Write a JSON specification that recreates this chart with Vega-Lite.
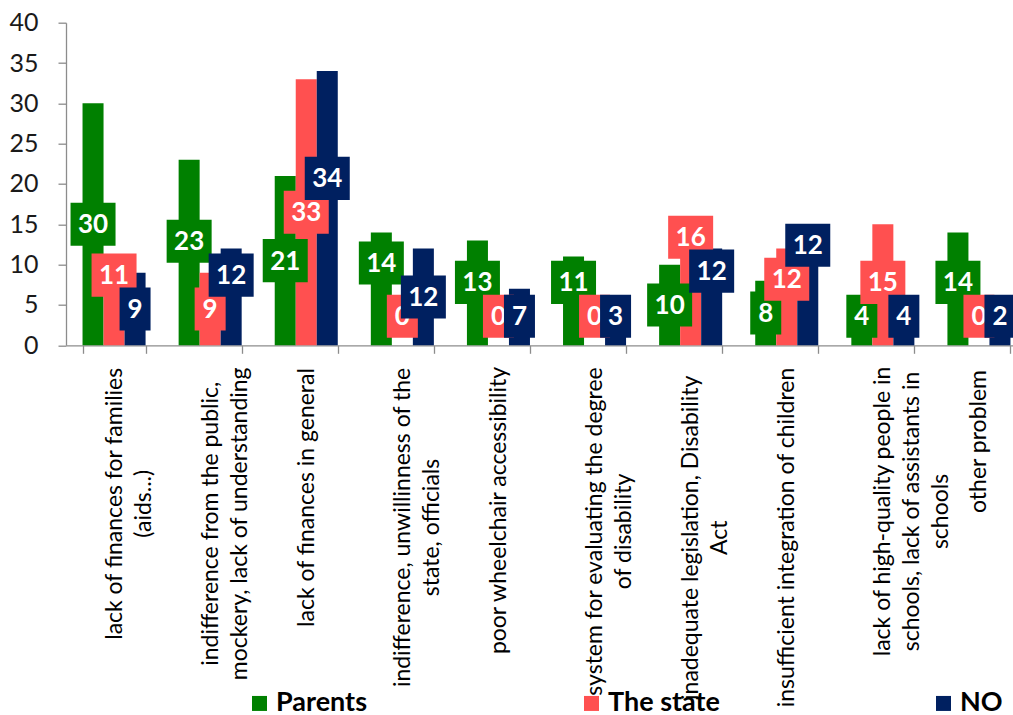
{
  "$schema": "https://vega.github.io/schema/vega-lite/v6.json",
  "autosize": {"type": "none"},
  "padding": {"left": 66, "top": 22.7, "right": 0, "bottom": 370},
  "width": 947,
  "height": 322.6,
  "config": {
    "view": {"stroke": null},
    "font": "Lato",
    "axis": {"domainColor": "#8c8c8c", "tickColor": "#8c8c8c", "domainWidth": 1.3, "tickWidth": 1.3, "grid": false}
  },
  "data": {
    "values": [
      {"problem": "lack of finances for families (aids...)", "series": "Parents", "value": 30},
      {"problem": "lack of finances for families (aids...)", "series": "The state", "value": 11},
      {"problem": "lack of finances for families (aids...)", "series": "NO", "value": 9},
      {"problem": "indifference from the public, mockery, lack of understanding", "series": "Parents", "value": 23},
      {"problem": "indifference from the public, mockery, lack of understanding", "series": "The state", "value": 9},
      {"problem": "indifference from the public, mockery, lack of understanding", "series": "NO", "value": 12},
      {"problem": "lack of finances in general", "series": "Parents", "value": 21},
      {"problem": "lack of finances in general", "series": "The state", "value": 33},
      {"problem": "lack of finances in general", "series": "NO", "value": 34},
      {"problem": "indifference, unwillinness of the state, officials", "series": "Parents", "value": 14},
      {"problem": "indifference, unwillinness of the state, officials", "series": "The state", "value": 0},
      {"problem": "indifference, unwillinness of the state, officials", "series": "NO", "value": 12},
      {"problem": "poor wheelchair accessibility", "series": "Parents", "value": 13},
      {"problem": "poor wheelchair accessibility", "series": "The state", "value": 0},
      {"problem": "poor wheelchair accessibility", "series": "NO", "value": 7},
      {"problem": "system for evaluating the degree of disability", "series": "Parents", "value": 11},
      {"problem": "system for evaluating the degree of disability", "series": "The state", "value": 0},
      {"problem": "system for evaluating the degree of disability", "series": "NO", "value": 3},
      {"problem": "inadequate legislation, Disability Act", "series": "Parents", "value": 10},
      {"problem": "inadequate legislation, Disability Act", "series": "The state", "value": 16},
      {"problem": "inadequate legislation, Disability Act", "series": "NO", "value": 12},
      {"problem": "insufficient integration of children", "series": "Parents", "value": 8},
      {"problem": "insufficient integration of children", "series": "The state", "value": 12},
      {"problem": "insufficient integration of children", "series": "NO", "value": 12},
      {"problem": "lack of high-quality people in schools, lack of assistants in schools", "series": "Parents", "value": 4},
      {"problem": "lack of high-quality people in schools, lack of assistants in schools", "series": "The state", "value": 15},
      {"problem": "lack of high-quality people in schools, lack of assistants in schools", "series": "NO", "value": 4},
      {"problem": "other problem", "series": "Parents", "value": 14},
      {"problem": "other problem", "series": "The state", "value": 0},
      {"problem": "other problem", "series": "NO", "value": 2}
    ]
  },
  "transform": [
    {"calculate": "indexof(['Parents', 'The state', 'NO'], datum.series)", "as": "sIdx"},
    {
      "window": [
        {"op": "row_number", "as": "rank"},
        {"op": "lag", "field": "value", "param": 1, "as": "v1"},
        {"op": "lag", "field": "value", "param": 2, "as": "v2"},
        {"op": "lag", "field": "sIdx", "param": 1, "as": "i1"},
        {"op": "lag", "field": "sIdx", "param": 2, "as": "i2"}
      ],
      "groupby": ["problem"],
      "sort": [{"field": "value", "order": "ascending"}, {"field": "sIdx", "order": "ascending"}]
    },
    {"calculate": "datum.rank >= 2 && datum.v1 > 0 && datum.value > 0 && !(abs(datum.i1 - datum.sIdx) == 2 && datum.v1 < 10 && datum.value < 10)", "as": "hitPrev1"},
    {"calculate": "datum.rank >= 3 && datum.v2 > 0 && datum.value > 0 && !(abs(datum.i2 - datum.sIdx) == 2 && datum.v2 < 10 && datum.value < 10)", "as": "hitPrev2"},
    {"calculate": "datum.rank >= 3 && datum.v2 > 0 && datum.v1 > 0 && !(abs(datum.i2 - datum.i1) == 2 && datum.v2 < 10 && datum.v1 < 10)", "as": "prevHit"},
    {"calculate": "datum.rank >= 3 ? max(datum.v2 / 2, 3.6) : 0", "as": "mPrev2"},
    {"calculate": "datum.rank >= 3 ? max(datum.v1 / 2, 3.6, datum.prevHit ? datum.mPrev2 + 4.2 : 0) : (datum.rank == 2 ? max(datum.v1 / 2, 3.6) : 0)", "as": "mPrev1"},
    {"calculate": "max(datum.value / 2, 3.6, datum.hitPrev1 ? datum.mPrev1 + 4.2 : 0, datum.hitPrev2 ? datum.mPrev2 + 4.2 : 0)", "as": "labelMid"},
    {"calculate": "datum.labelMid - 2.67", "as": "boxLo"},
    {"calculate": "datum.labelMid + 2.67", "as": "boxHi"}
  ],
  "encoding": {
    "x": {
      "field": "problem",
      "type": "nominal",
      "sort": [
        "lack of finances for families (aids...)",
        "indifference from the public, mockery, lack of understanding",
        "lack of finances in general",
        "indifference, unwillinness of the state, officials",
        "poor wheelchair accessibility",
        "system for evaluating the degree of disability",
        "inadequate legislation, Disability Act",
        "insufficient integration of children",
        "lack of high-quality people in schools, lack of assistants in schools",
        "other problem"
      ],
      "title": null,
      "scale": {"range": [0, 961], "paddingInner": 0.344, "paddingOuter": 0.172},
      "axis": {
        "tickBand": "extent",
        "tickSize": 8,
        "labelAngle": -90,
        "labelAlign": "center",
        "labelBaseline": "middle",
        "labelFontSize": 23,
        "labelColor": "#000000",
        "labelLineHeight": 29,
        "labelLimit": 0,
        "labelOverlap": false,
        "labelFlush": false,
        "labelBound": false,
        "labelExpr": "{'lack of finances for families (aids...)': ['lack of finances for families', '(aids...)'], 'indifference from the public, mockery, lack of understanding': ['indifference from the public,', 'mockery, lack of understanding'], 'indifference, unwillinness of the state, officials': ['indifference, unwillinness of the', 'state,  officials'], 'system for evaluating the degree of disability': ['system for evaluating  the degree', 'of disability'], 'inadequate legislation, Disability Act': ['inadequate legislation,  Disability', 'Act'], 'lack of high-quality people in schools, lack of assistants in schools': ['lack of high-quality people in', 'schools, lack of assistants in', 'schools']}[datum.value] || datum.label",
        "labelPadding": {
          "condition": [
            {"test": "datum.value === 'lack of finances for families (aids...)'", "value": 150},
            {"test": "datum.value === 'indifference from the public, mockery, lack of understanding'", "value": 170},
            {"test": "datum.value === 'lack of finances in general'", "value": 143.7},
            {"test": "datum.value === 'indifference, unwillinness of the state, officials'", "value": 173.7},
            {"test": "datum.value === 'poor wheelchair accessibility'", "value": 156.7},
            {"test": "datum.value === 'system for evaluating the degree of disability'", "value": 177.7},
            {"test": "datum.value === 'inadequate legislation, Disability Act'", "value": 184},
            {"test": "datum.value === 'insufficient integration of children'", "value": 183.7},
            {"test": "datum.value === 'lack of high-quality people in schools, lack of assistants in schools'", "value": 157.7}
          ],
          "value": 87.7
        }
      }
    },
    "xOffset": {"field": "series", "type": "nominal", "sort": ["Parents", "The state", "NO"], "scale": {"paddingInner": 0, "paddingOuter": 0}},
    "color": {
      "field": "series",
      "type": "nominal",
      "sort": ["Parents", "The state", "NO"],
      "scale": {"domain": ["Parents", "The state", "NO"], "range": ["#008000", "#ff5050", "#002060"]},
      "legend": {
        "title": null,
        "orient": "none",
        "legendX": 180,
        "legendY": 667,
        "direction": "horizontal",
        "columns": 3,
        "columnPadding": 210,
        "padding": 0,
        "symbolType": "square",
        "symbolSize": 225,
        "symbolStrokeWidth": 0,
        "symbolOffset": 0,
        "labelOffset": 3,
        "labelFont": "Lato",
        "labelFontSize": 27,
        "labelFontWeight": "bold",
        "labelColor": "#000000"
      }
    }
  },
  "layer": [
    {
      "mark": {"type": "bar"},
      "encoding": {
        "y": {
          "field": "value",
          "type": "quantitative",
          "title": null,
          "scale": {"domain": [0, 40], "nice": false},
          "axis": {"values": [0, 5, 10, 15, 20, 25, 30, 35, 40], "tickSize": 8, "labelPadding": 20, "labelFontSize": 25, "labelColor": "#1a1a1a"}
        }
      }
    },
    {
      "transform": [{"filter": "datum.series === 'Parents'"}],
      "layer": [
        {"mark": {"type": "bar"}, "encoding": {"y": {"field": "boxLo", "type": "quantitative"}, "y2": {"field": "boxHi"}, "size": {"condition": {"test": "datum.value >= 10", "value": 45}, "value": 31}}},
        {"mark": {"type": "text", "font": "Lato", "fontSize": 26, "fontWeight": "bold", "baseline": "middle", "dy": 1}, "encoding": {"y": {"field": "labelMid", "type": "quantitative"}, "text": {"field": "value", "type": "quantitative"}, "color": {"value": "#ffffff"}}}
      ]
    },
    {
      "transform": [{"filter": "datum.series === 'The state'"}],
      "layer": [
        {"mark": {"type": "bar"}, "encoding": {"y": {"field": "boxLo", "type": "quantitative"}, "y2": {"field": "boxHi"}, "size": {"condition": {"test": "datum.value >= 10", "value": 45}, "value": 31}}},
        {"mark": {"type": "text", "font": "Lato", "fontSize": 26, "fontWeight": "bold", "baseline": "middle", "dy": 1}, "encoding": {"y": {"field": "labelMid", "type": "quantitative"}, "text": {"field": "value", "type": "quantitative"}, "color": {"value": "#ffffff"}}}
      ]
    },
    {
      "transform": [{"filter": "datum.series === 'NO'"}],
      "layer": [
        {"mark": {"type": "bar"}, "encoding": {"y": {"field": "boxLo", "type": "quantitative"}, "y2": {"field": "boxHi"}, "size": {"condition": {"test": "datum.value >= 10", "value": 45}, "value": 31}}},
        {"mark": {"type": "text", "font": "Lato", "fontSize": 26, "fontWeight": "bold", "baseline": "middle", "dy": 1}, "encoding": {"y": {"field": "labelMid", "type": "quantitative"}, "text": {"field": "value", "type": "quantitative"}, "color": {"value": "#ffffff"}}}
      ]
    }
  ]
}
